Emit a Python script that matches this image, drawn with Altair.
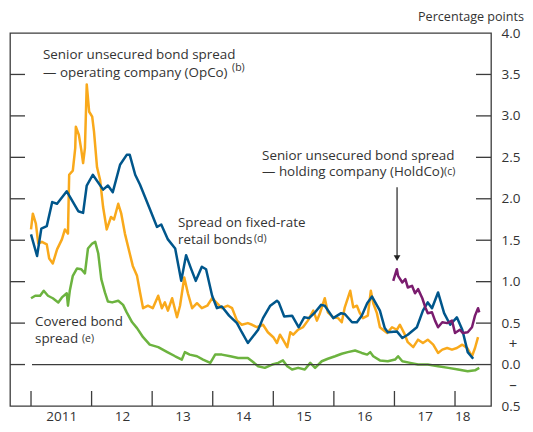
import altair as alt
import pandas as pd

FONT = "Open Sans"
TXT = "#333333"

# ---- data (decimal years, percentage points) ----
opco_year = [2011.00, 2011.10, 2011.17, 2011.26, 2011.35, 2011.43, 2011.59, 2011.78, 2011.86, 2011.92,
             2012.02, 2012.19, 2012.27, 2012.35, 2012.47, 2012.58, 2012.63, 2012.72, 2012.80, 2012.96,
             2013.08, 2013.15, 2013.26, 2013.38, 2013.48, 2013.56, 2013.64, 2013.72, 2013.82, 2013.89,
             2013.99, 2014.07, 2014.15, 2014.27, 2014.40, 2014.48, 2014.58, 2014.75, 2014.83, 2014.95,
             2015.06, 2015.09, 2015.18, 2015.31, 2015.42, 2015.51, 2015.59, 2015.69, 2015.79, 2015.85,
             2015.99, 2016.12, 2016.18, 2016.30, 2016.38, 2016.46, 2016.55, 2016.63, 2016.76, 2016.84,
             2016.89, 2017.04, 2017.13, 2017.22, 2017.37, 2017.47, 2017.55, 2017.62, 2017.72, 2017.82,
             2017.92, 2018.03, 2018.12, 2018.21, 2018.30]
opco_value = [1.57, 1.31, 1.64, 1.67, 1.96, 1.94, 2.09, 1.85, 1.83, 2.16,
              2.29, 2.11, 2.16, 2.08, 2.41, 2.53, 2.53, 2.29, 2.17, 1.88,
              1.66, 1.69, 1.51, 1.40, 1.01, 1.32, 1.16, 1.01, 1.18, 1.15,
              0.83, 0.68, 0.70, 0.59, 0.50, 0.39, 0.26, 0.42, 0.56, 0.71,
              0.77, 0.75, 0.58, 0.59, 0.45, 0.57, 0.56, 0.63, 0.72, 0.71,
              0.56, 0.62, 0.61, 0.51, 0.51, 0.59, 0.74, 0.82, 0.65, 0.44,
              0.39, 0.40, 0.32, 0.36, 0.45, 0.65, 0.75, 0.68, 0.87, 0.62,
              0.48, 0.57, 0.42, 0.15, 0.07]

retail_year = [2011.00, 2011.03, 2011.08, 2011.12, 2011.18, 2011.26, 2011.30, 2011.36, 2011.43, 2011.51,
               2011.56, 2011.61, 2011.63, 2011.69, 2011.73, 2011.74, 2011.79, 2011.83, 2011.86, 2011.89,
               2011.92, 2011.96, 2012.01, 2012.04, 2012.09, 2012.14, 2012.19, 2012.25, 2012.32, 2012.37,
               2012.44, 2012.49, 2012.55, 2012.63, 2012.68, 2012.75, 2012.80, 2012.85, 2012.93, 2013.01,
               2013.10, 2013.16, 2013.21, 2013.26, 2013.33, 2013.41, 2013.46, 2013.53, 2013.59, 2013.66,
               2013.74, 2013.82, 2013.91, 2013.99, 2014.07, 2014.15, 2014.25, 2014.32, 2014.40, 2014.48,
               2014.58, 2014.65, 2014.73, 2014.83, 2014.91, 2015.00, 2015.06, 2015.11, 2015.16, 2015.23,
               2015.28, 2015.33, 2015.41, 2015.49, 2015.57, 2015.66, 2015.72, 2015.77, 2015.85, 2015.90,
               2015.99, 2016.07, 2016.13, 2016.18, 2016.27, 2016.32, 2016.38, 2016.43, 2016.48, 2016.56,
               2016.61, 2016.65, 2016.71, 2016.76, 2016.81, 2016.88, 2016.96, 2017.04, 2017.09, 2017.16,
               2017.22, 2017.31, 2017.39, 2017.47, 2017.55, 2017.64, 2017.72, 2017.79, 2017.87, 2017.95,
               2018.03, 2018.12, 2018.20, 2018.28, 2018.33, 2018.38]
retail_value = [1.63, 1.82, 1.70, 1.46, 1.48, 1.45, 1.28, 1.22, 1.39, 1.51,
                1.63, 1.58, 2.29, 2.34, 2.61, 2.87, 2.77, 2.59, 2.43, 2.61,
                3.38, 3.05, 2.99, 2.81, 2.38, 2.23, 1.90, 1.63, 1.78, 1.75,
                1.94, 1.82, 1.58, 1.34, 1.19, 1.07, 0.87, 0.68, 0.71, 0.68,
                0.83, 0.68, 0.75, 0.65, 0.80, 0.57, 0.71, 1.05, 0.86, 0.68,
                0.74, 0.68, 0.71, 0.80, 0.74, 0.68, 0.71, 0.68, 0.53, 0.48,
                0.50, 0.48, 0.45, 0.48, 0.39, 0.33, 0.26, 0.36, 0.30, 0.21,
                0.39, 0.36, 0.42, 0.45, 0.53, 0.65, 0.53, 0.62, 0.80, 0.63,
                0.57, 0.56, 0.51, 0.69, 0.89, 0.69, 0.71, 0.62, 0.56, 0.59,
                0.89, 0.74, 0.62, 0.45, 0.42, 0.38, 0.45, 0.42, 0.48, 0.38,
                0.27, 0.21, 0.30, 0.26, 0.30, 0.24, 0.14, 0.18, 0.20, 0.18,
                0.20, 0.24, 0.20, 0.10, 0.20, 0.33]

covered_year = [2011.00, 2011.07, 2011.15, 2011.21, 2011.28, 2011.36, 2011.45, 2011.51, 2011.59, 2011.61,
                2011.64, 2011.69, 2011.76, 2011.83, 2011.89, 2011.94, 2012.01, 2012.06, 2012.11, 2012.16,
                2012.22, 2012.27, 2012.34, 2012.44, 2012.52, 2012.58, 2012.67, 2012.75, 2012.85, 2012.96,
                2013.10, 2013.25, 2013.38, 2013.49, 2013.54, 2013.62, 2013.74, 2013.84, 2013.96, 2014.04,
                2014.15, 2014.29, 2014.42, 2014.58, 2014.65, 2014.75, 2014.86, 2014.98, 2015.08, 2015.16,
                2015.23, 2015.31, 2015.41, 2015.52, 2015.61, 2015.69, 2015.80, 2015.90, 2016.02, 2016.13,
                2016.23, 2016.35, 2016.46, 2016.55, 2016.60, 2016.65, 2016.76, 2016.89, 2017.01, 2017.06,
                2017.13, 2017.26, 2017.39, 2017.55, 2017.72, 2017.89, 2018.05, 2018.21, 2018.33, 2018.40]
covered_value = [0.80, 0.83, 0.83, 0.89, 0.83, 0.80, 0.75, 0.81, 0.86, 0.71,
                 0.89, 1.07, 1.16, 1.15, 1.10, 1.40, 1.46, 1.48, 1.34, 1.03,
                 0.87, 0.76, 0.75, 0.77, 0.72, 0.63, 0.51, 0.44, 0.33, 0.24,
                 0.21, 0.15, 0.10, 0.06, 0.15, 0.12, 0.10, 0.06, 0.02, 0.12,
                 0.12, 0.10, 0.08, 0.08, 0.04, -0.02, -0.04, 0.00, 0.02, 0.05,
                 -0.02, -0.06, -0.04, -0.06, 0.02, -0.04, 0.04, 0.07, 0.10, 0.13,
                 0.15, 0.17, 0.14, 0.12, 0.15, 0.10, 0.05, 0.04, 0.06, 0.10,
                 0.04, 0.02, 0.00, 0.00, -0.02, -0.04, -0.06, -0.08, -0.07, -0.04]

holdco_year = [2016.98, 2017.04, 2017.06, 2017.13, 2017.18, 2017.22, 2017.29, 2017.34, 2017.39, 2017.46,
               2017.51, 2017.55, 2017.62, 2017.67, 2017.72, 2017.79, 2017.87, 2017.95, 2018.00, 2018.08,
               2018.13, 2018.21, 2018.28, 2018.33, 2018.38, 2018.40]
holdco_value = [1.01, 1.15, 1.07, 0.99, 1.03, 0.93, 0.95, 0.86, 0.91, 0.80,
                0.69, 0.62, 0.63, 0.53, 0.45, 0.51, 0.50, 0.53, 0.38, 0.42,
                0.38, 0.39, 0.45, 0.59, 0.68, 0.63]

x_domain = [2010.653, 2018.594]
y_domain = [-0.5, 4.0]
y_ticks = [-0.5, 0.0, 0.5, 1.0, 1.5, 2.0, 2.5, 3.0, 3.5, 4.0]
year_ticks = [2011, 2012, 2013, 2014, 2015, 2016, 2017, 2018]
x_label_pos = [2011.5, 2012.5, 2013.5, 2014.5, 2015.5, 2016.5, 2017.5, 2018.12]
x_label_txt = ["2011", "12", "13", "14", "15", "16", "17", "18"]

# annotation texts
ann_text = ["Senior unsecured bond spread", "\u2014 operating company (OpCo)",
            "Spread on fixed-rate", "retail bonds",
            "Senior unsecured bond spread", "\u2014 holding company (HoldCo)",
            "Covered bond", "spread"]
ann_x = [2011.198, 2011.198, 2013.427, 2013.427, 2014.814, 2014.814, 2011.066, 2011.066]
ann_y = [3.682, 3.468, 1.663, 1.449, 2.470, 2.270, 0.463, 0.261]
sup_text = ["(b)", "(d)", "(c)", "(e)"]
sup_x = [2014.319, 2014.681, 2017.819, 2011.84]
sup_y = [3.64, 1.575, 2.38, 0.37]
arrow_x = [2017.043]
arrow_top = [2.138]
arrow_end = [1.30]
arrow_tip = [1.283]

W, H = 481, 373

xs = alt.Scale(domain=x_domain, nice=False, zero=False)
ys = alt.Scale(domain=y_domain, nice=False, zero=False)

label_expr = "''"
for p, t in reversed(list(zip(x_label_pos, x_label_txt))):
    label_expr = f"abs(datum.value - {p}) < 0.01 ? '{t}' : ({label_expr})"

XA = alt.Axis(values=x_label_pos, labelExpr=label_expr, ticks=False, domain=False, grid=False,
              title=None, labelPadding=3, labelFontSize=13.5, labelColor=TXT, labelFont=FONT)
YA = alt.Axis(orient="right", values=y_ticks, labelExpr="format(abs(datum.value), '.1f')",
              ticks=False, domain=False, grid=False, title=None, labelPadding=10,
              labelFontSize=13.5, labelColor=TXT, labelFont=FONT)


def X(field):
    return alt.X(field, scale=xs, axis=XA)


def Y(field):
    return alt.Y(field, scale=ys, axis=YA)


def line_layer(years, values, color):
    df = pd.DataFrame({"year": years, "value": values})
    return alt.Chart(df).mark_line(color=color, strokeWidth=2.5, strokeJoin="round", clip=True).encode(
        x=X("year:Q"), y=Y("value:Q"))


tick_color = "#3c3c3c"
ytk = pd.DataFrame({"value": y_ticks[1:-1]})
left_ticks = alt.Chart(ytk).mark_rule(color=tick_color, strokeWidth=1.3).encode(
    y=Y("value:Q"), x=alt.value(0), x2=alt.value(15))
right_ticks = alt.Chart(ytk).mark_rule(color=tick_color, strokeWidth=1.3).encode(
    y=Y("value:Q"), x=alt.value(W - 15), x2=alt.value(W))
xtk = pd.DataFrame({"year": year_ticks})
bottom_ticks = alt.Chart(xtk).mark_rule(color=tick_color, strokeWidth=1.3).encode(
    x=X("year:Q"), y=alt.value(H), y2=alt.value(H - 15))

zero_line = alt.Chart(pd.DataFrame({"value": [0.0]})).mark_rule(color="#3c3c3c", strokeWidth=1.2).encode(
    y=Y("value:Q"), x=alt.value(22), x2=alt.value(W - 15))

ann_df = pd.DataFrame({"year": ann_x, "value": ann_y, "text": ann_text})
ann = alt.Chart(ann_df).mark_text(align="left", baseline="alphabetic", font=FONT, fontSize=13.4,
                                   color=TXT).encode(
    x=X("year:Q"), y=Y("value:Q"), text="text:N")
sup_df = pd.DataFrame({"year": sup_x, "value": sup_y, "text": sup_text})
sup = alt.Chart(sup_df).mark_text(align="left", baseline="top", font=FONT, fontSize=10.5,
                                  color=TXT).encode(
    x=X("year:Q"), y=Y("value:Q"), text="text:N")

arr_df = pd.DataFrame({"year": arrow_x, "top": arrow_top, "end": arrow_end, "tip": arrow_tip})
arrow_line = alt.Chart(arr_df).mark_rule(color="#222222", strokeWidth=1.2).encode(
    x=X("year:Q"), y=Y("top:Q"), y2="end:Q")
arrow_head = alt.Chart(arr_df).mark_point(shape="triangle-down", filled=True, size=45, color="#222222",
                                          opacity=1).encode(
    x=X("year:Q"), y=Y("tip:Q"))

sign_df = pd.DataFrame({"value": [0.25, -0.25], "text": ["+", "\u2013"]})
signs = alt.Chart(sign_df).mark_text(align="center", baseline="middle", font=FONT, fontSize=15,
                                     color=TXT).encode(
    y=Y("value:Q"), x=alt.value(W + 22), text="text:N")

unit = alt.Chart(pd.DataFrame({"text": ["Percentage points"]})).mark_text(
    align="right", baseline="middle", font=FONT, fontSize=12.6, color=TXT).encode(
    x=alt.value(W + 33), y=alt.value(-16), text="text:N")

chart = alt.layer(
    line_layer(covered_year, covered_value, "#6cb33f"),
    zero_line,
    line_layer(retail_year, retail_value, "#f9a91b"),
    line_layer(opco_year, opco_value, "#00568b"),
    line_layer(holdco_year, holdco_value, "#7a1c6e"),
    left_ticks, right_ticks, bottom_ticks,
    ann, sup, arrow_line, arrow_head, signs, unit,
).properties(
    width=W, height=H,
    autosize=alt.AutoSizeParams(type="none"),
    padding={"left": 2, "top": 25, "right": 34, "bottom": 18},
    background="white",
).configure_view(stroke="#3c3c3c", strokeWidth=1.3)

chart.save("out.html", embed_options={"renderer": "svg", "actions": False})
